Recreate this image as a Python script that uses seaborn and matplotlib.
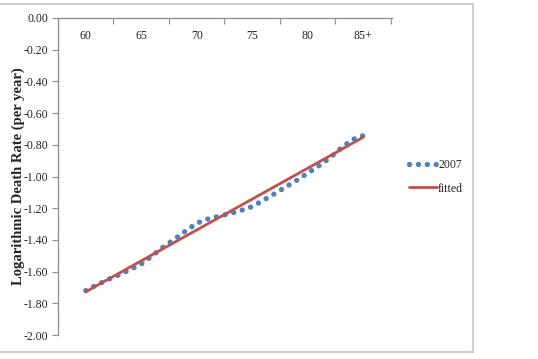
"""Logarithmic death rate by age, 2007 vs fitted line."""

import matplotlib

matplotlib.use("Agg")

import matplotlib.pyplot as plt  # noqa: E402
import seaborn as sns  # noqa: E402
from matplotlib.patches import Rectangle  # noqa: E402

ages = list(range(60, 86))
rate_2007 = [
    -1.720, -1.684, -1.650, -1.621, -1.588, -1.552, -1.500, -1.444, -1.395,
    -1.344, -1.295, -1.268, -1.251, -1.234, -1.214, -1.190, -1.150, -1.110,
    -1.067, -1.025, -0.979, -0.933, -0.882, -0.822, -0.768, -0.742,
]
fitted_ages = [60, 85]
fitted_rate = [-1.727, -0.753]

tick_ages = [60, 65, 70, 75, 80, 85]
tick_labels = ["60", "65", "70", "75", "80", "85+"]
y_ticks = [0.0, -0.2, -0.4, -0.6, -0.8, -1.0, -1.2, -1.4, -1.6, -1.8, -2.0]

BLUE = "#4F81BD"
RED = "#C0504D"
GRID = "#8c8c8c"

sns.set_style("white")
plt.rcParams["font.family"] = ["Liberation Serif", "DejaVu Serif"]
plt.rcParams["axes.unicode_minus"] = False
plt.rcParams["lines.scale_dashes"] = False

fig = plt.figure(figsize=(5.38, 3.59), dpi=100)
ax = fig.add_axes([58 / 538, 1 - 335 / 359, (392 - 58) / 538, (335 - 18) / 359])

sns.lineplot(
    x=ages, y=rate_2007, ax=ax, color=BLUE, linewidth=3.8,
    linestyle=(0, (0.1, 6.3)), dash_capstyle="round", label="2007",
)
sns.lineplot(
    x=fitted_ages, y=fitted_rate, ax=ax, color=RED, linewidth=2.0,
    label="fitted",
)

ax.set_xlim(57.5, 87.6)
ax.set_ylim(-2.0, 0.0)

# category axis sits on y = 0 at the top, labels hang below it
ax.xaxis.tick_top()
ax.set_xticks(tick_ages)
ax.set_xticklabels(tick_labels, fontsize=8.5)
ax.set_xticks([57.5 + 5 * i for i in range(7)], minor=True)
ax.tick_params(axis="x", which="major", length=0, pad=-17, labelcolor="#222222")
ax.tick_params(axis="x", which="minor", direction="in", length=4, width=0.8,
               color=GRID, top=True)

ax.set_yticks(y_ticks)
ax.set_yticklabels([f"{v:.2f}" for v in y_ticks], fontsize=8.5)
ax.tick_params(axis="y", which="major", direction="out", length=4, width=0.8,
               color=GRID, left=True, pad=3, labelcolor="#222222")
ax.set_xlabel("")
ax.set_ylabel("Logarithmic Death Rate (per year)", fontsize=10.5,
              fontweight="bold")
ax.yaxis.set_label_coords(-0.10, 0.5)

for side in ("right", "bottom"):
    ax.spines[side].set_visible(False)
for side in ("left", "top"):
    ax.spines[side].set_color(GRID)
    ax.spines[side].set_linewidth(0.9)

ax.legend(
    loc="center left", bbox_to_anchor=(398 / 538, 1 - 177 / 359),
    bbox_transform=fig.transFigure, frameon=False, fontsize=8.5,
    handlelength=2.4, handletextpad=0.1, labelspacing=0.95,
)

fig.patches.append(Rectangle(
    (-0.01, 1 - 352 / 359), 473 / 538 + 0.01, 348 / 359,
    transform=fig.transFigure, fill=False, edgecolor="#cfcfcf", linewidth=1.5,
))

fig.savefig("out.png", dpi=100, facecolor="white")
